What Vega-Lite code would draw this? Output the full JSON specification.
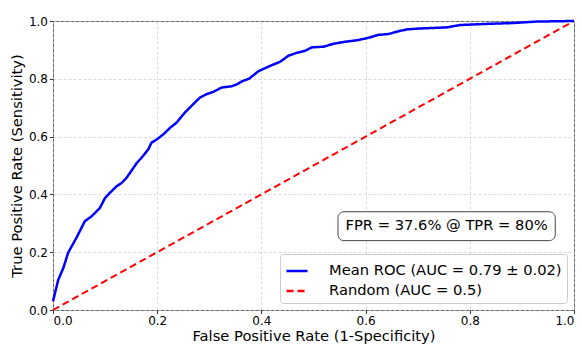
{
  "$schema": "https://vega.github.io/schema/vega-lite/v6.json",
  "autosize": "none",
  "width": 521,
  "height": 289,
  "padding": {"left": 53, "top": 21, "right": 8, "bottom": 35},
  "background": "white",
  "config": {
    "font": "DejaVu Sans",
    "view": {"stroke": "#555", "strokeWidth": 1},
    "axis": {
      "labelFont": "DejaVu Sans",
      "titleFont": "DejaVu Sans",
      "labelFontSize": 12,
      "titleFontSize": 14.7,
      "titleFontWeight": "normal",
      "labelColor": "#000",
      "titleColor": "#000",
      "tickColor": "#333",
      "tickSize": 3.5,
      "labelPadding": 2,
      "domain": false,
      "grid": true,
      "gridColor": "#cccccc",
      "gridDash": [3, 2],
      "gridWidth": 0.7
    }
  },
  "datasets": {
    "roc": [
      {"fpr": 0.0, "tpr": 0.03, "series": "Mean ROC (AUC = 0.79 ± 0.02)"},
      {"fpr": 0.01, "tpr": 0.104, "series": "Mean ROC (AUC = 0.79 ± 0.02)"},
      {"fpr": 0.02, "tpr": 0.146, "series": "Mean ROC (AUC = 0.79 ± 0.02)"},
      {"fpr": 0.029, "tpr": 0.198, "series": "Mean ROC (AUC = 0.79 ± 0.02)"},
      {"fpr": 0.045, "tpr": 0.25, "series": "Mean ROC (AUC = 0.79 ± 0.02)"},
      {"fpr": 0.061, "tpr": 0.307, "series": "Mean ROC (AUC = 0.79 ± 0.02)"},
      {"fpr": 0.074, "tpr": 0.324, "series": "Mean ROC (AUC = 0.79 ± 0.02)"},
      {"fpr": 0.09, "tpr": 0.353, "series": "Mean ROC (AUC = 0.79 ± 0.02)"},
      {"fpr": 0.1, "tpr": 0.388, "series": "Mean ROC (AUC = 0.79 ± 0.02)"},
      {"fpr": 0.109, "tpr": 0.405, "series": "Mean ROC (AUC = 0.79 ± 0.02)"},
      {"fpr": 0.122, "tpr": 0.428, "series": "Mean ROC (AUC = 0.79 ± 0.02)"},
      {"fpr": 0.132, "tpr": 0.44, "series": "Mean ROC (AUC = 0.79 ± 0.02)"},
      {"fpr": 0.141, "tpr": 0.457, "series": "Mean ROC (AUC = 0.79 ± 0.02)"},
      {"fpr": 0.161, "tpr": 0.509, "series": "Mean ROC (AUC = 0.79 ± 0.02)"},
      {"fpr": 0.17, "tpr": 0.527, "series": "Mean ROC (AUC = 0.79 ± 0.02)"},
      {"fpr": 0.183, "tpr": 0.556, "series": "Mean ROC (AUC = 0.79 ± 0.02)"},
      {"fpr": 0.189, "tpr": 0.579, "series": "Mean ROC (AUC = 0.79 ± 0.02)"},
      {"fpr": 0.199, "tpr": 0.59, "series": "Mean ROC (AUC = 0.79 ± 0.02)"},
      {"fpr": 0.212, "tpr": 0.608, "series": "Mean ROC (AUC = 0.79 ± 0.02)"},
      {"fpr": 0.225, "tpr": 0.631, "series": "Mean ROC (AUC = 0.79 ± 0.02)"},
      {"fpr": 0.237, "tpr": 0.648, "series": "Mean ROC (AUC = 0.79 ± 0.02)"},
      {"fpr": 0.253, "tpr": 0.683, "series": "Mean ROC (AUC = 0.79 ± 0.02)"},
      {"fpr": 0.269, "tpr": 0.712, "series": "Mean ROC (AUC = 0.79 ± 0.02)"},
      {"fpr": 0.282, "tpr": 0.735, "series": "Mean ROC (AUC = 0.79 ± 0.02)"},
      {"fpr": 0.295, "tpr": 0.747, "series": "Mean ROC (AUC = 0.79 ± 0.02)"},
      {"fpr": 0.308, "tpr": 0.755, "series": "Mean ROC (AUC = 0.79 ± 0.02)"},
      {"fpr": 0.324, "tpr": 0.77, "series": "Mean ROC (AUC = 0.79 ± 0.02)"},
      {"fpr": 0.343, "tpr": 0.774, "series": "Mean ROC (AUC = 0.79 ± 0.02)"},
      {"fpr": 0.353, "tpr": 0.781, "series": "Mean ROC (AUC = 0.79 ± 0.02)"},
      {"fpr": 0.365, "tpr": 0.793, "series": "Mean ROC (AUC = 0.79 ± 0.02)"},
      {"fpr": 0.376, "tpr": 0.8, "series": "Mean ROC (AUC = 0.79 ± 0.02)"},
      {"fpr": 0.394, "tpr": 0.826, "series": "Mean ROC (AUC = 0.79 ± 0.02)"},
      {"fpr": 0.417, "tpr": 0.845, "series": "Mean ROC (AUC = 0.79 ± 0.02)"},
      {"fpr": 0.436, "tpr": 0.859, "series": "Mean ROC (AUC = 0.79 ± 0.02)"},
      {"fpr": 0.452, "tpr": 0.88, "series": "Mean ROC (AUC = 0.79 ± 0.02)"},
      {"fpr": 0.468, "tpr": 0.89, "series": "Mean ROC (AUC = 0.79 ± 0.02)"},
      {"fpr": 0.484, "tpr": 0.897, "series": "Mean ROC (AUC = 0.79 ± 0.02)"},
      {"fpr": 0.497, "tpr": 0.909, "series": "Mean ROC (AUC = 0.79 ± 0.02)"},
      {"fpr": 0.519, "tpr": 0.911, "series": "Mean ROC (AUC = 0.79 ± 0.02)"},
      {"fpr": 0.538, "tpr": 0.921, "series": "Mean ROC (AUC = 0.79 ± 0.02)"},
      {"fpr": 0.56, "tpr": 0.928, "series": "Mean ROC (AUC = 0.79 ± 0.02)"},
      {"fpr": 0.586, "tpr": 0.934, "series": "Mean ROC (AUC = 0.79 ± 0.02)"},
      {"fpr": 0.608, "tpr": 0.943, "series": "Mean ROC (AUC = 0.79 ± 0.02)"},
      {"fpr": 0.624, "tpr": 0.952, "series": "Mean ROC (AUC = 0.79 ± 0.02)"},
      {"fpr": 0.644, "tpr": 0.955, "series": "Mean ROC (AUC = 0.79 ± 0.02)"},
      {"fpr": 0.66, "tpr": 0.963, "series": "Mean ROC (AUC = 0.79 ± 0.02)"},
      {"fpr": 0.679, "tpr": 0.971, "series": "Mean ROC (AUC = 0.79 ± 0.02)"},
      {"fpr": 0.704, "tpr": 0.974, "series": "Mean ROC (AUC = 0.79 ± 0.02)"},
      {"fpr": 0.756, "tpr": 0.978, "series": "Mean ROC (AUC = 0.79 ± 0.02)"},
      {"fpr": 0.781, "tpr": 0.986, "series": "Mean ROC (AUC = 0.79 ± 0.02)"},
      {"fpr": 0.832, "tpr": 0.99, "series": "Mean ROC (AUC = 0.79 ± 0.02)"},
      {"fpr": 0.884, "tpr": 0.993, "series": "Mean ROC (AUC = 0.79 ± 0.02)"},
      {"fpr": 0.928, "tpr": 0.998, "series": "Mean ROC (AUC = 0.79 ± 0.02)"},
      {"fpr": 1.0, "tpr": 1.0, "series": "Mean ROC (AUC = 0.79 ± 0.02)"}
    ],
    "random": [
      {"fpr": 0.0, "tpr": 0.0, "series": "Random (AUC = 0.5)"},
      {"fpr": 1.0, "tpr": 1.0, "series": "Random (AUC = 0.5)"}
    ],
    "note": [
      {"label": "FPR = 37.6% @ TPR = 80%"}
    ]
  },
  "layer": [
    {
      "data": {"name": "random"},
      "mark": {"type": "line", "strokeWidth": 2, "clip": false},
      "encoding": {
        "x": {"field": "fpr", "type": "quantitative", "scale": {"domain": [0, 1], "nice": false},
              "axis": {"title": "False Positive Rate (1-Specificity)", "values": [0, 0.2, 0.4, 0.6, 0.8, 1.0], "format": ".1f", "titlePadding": 2}},
        "y": {"field": "tpr", "type": "quantitative", "scale": {"domain": [0, 1], "nice": false},
              "axis": {"title": "True Positive Rate (Sensitivity)", "values": [0, 0.2, 0.4, 0.6, 0.8, 1.0], "format": ".1f", "titlePadding": 4}},
        "color": {"field": "series", "type": "nominal",
                  "scale": {"domain": ["Mean ROC (AUC = 0.79 ± 0.02)", "Random (AUC = 0.5)"], "range": ["#0000ff", "#ff0000"]},
                  "legend": {"title": null, "orient": "none", "legendX": 227, "legendY": 233,
                             "symbolType": "stroke", "symbolSize": 441, "symbolStrokeWidth": 2.5,
                             "labelFontSize": 14.7, "labelFont": "DejaVu Sans", "labelColor": "#000",
                             "fillColor": "white", "strokeColor": "#cccccc", "cornerRadius": 3,
                             "padding": 5, "rowPadding": 1, "labelOffset": 20, "labelLimit": 400}},
        "strokeDash": {"field": "series", "type": "nominal",
                       "scale": {"domain": ["Mean ROC (AUC = 0.79 ± 0.02)", "Random (AUC = 0.5)"], "range": [[1, 0], [7, 4]]},
                       "legend": null}
      }
    },
    {
      "data": {"name": "roc"},
      "mark": {"type": "line", "strokeWidth": 2.5, "clip": false},
      "encoding": {
        "x": {"field": "fpr", "type": "quantitative"},
        "y": {"field": "tpr", "type": "quantitative"},
        "color": {"field": "series", "type": "nominal"},
        "strokeDash": {"field": "series", "type": "nominal"}
      }
    },
    {
      "data": {"name": "note"},
      "mark": {"type": "rect", "fill": "white", "stroke": "#444", "strokeWidth": 1, "cornerRadius": 6},
      "encoding": {
        "x": {"datum": 0.547, "type": "quantitative"},
        "x2": {"datum": 0.964},
        "y": {"datum": 0.24, "type": "quantitative"},
        "y2": {"datum": 0.34}
      }
    },
    {
      "data": {"name": "note"},
      "mark": {"type": "text", "fontSize": 14.7, "font": "DejaVu Sans", "color": "#000", "align": "center", "baseline": "middle"},
      "encoding": {
        "x": {"datum": 0.7555, "type": "quantitative"},
        "y": {"datum": 0.29, "type": "quantitative"},
        "text": {"field": "label", "type": "nominal"}
      }
    }
  ]
}
